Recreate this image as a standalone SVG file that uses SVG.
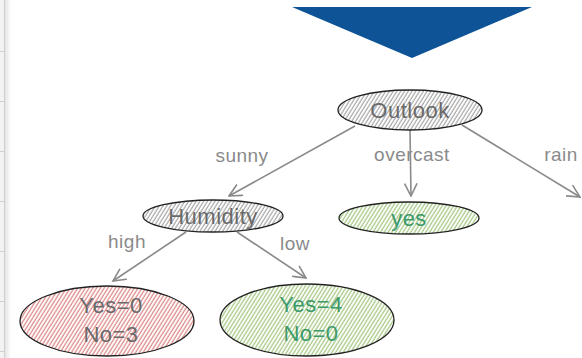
<svg xmlns="http://www.w3.org/2000/svg" width="582" height="358" viewBox="0 0 582 358">
<defs>
<pattern id="hg" patternUnits="userSpaceOnUse" width="3.2" height="8" patternTransform="rotate(32)"><line x1="1" y1="0" x2="1" y2="8" stroke="#a8a8a8" stroke-width="1.2"/></pattern>
<pattern id="hr" patternUnits="userSpaceOnUse" width="3.2" height="8" patternTransform="rotate(32)"><line x1="1" y1="0" x2="1" y2="8" stroke="#de8c8c" stroke-width="1.3"/></pattern>
<pattern id="hgr" patternUnits="userSpaceOnUse" width="3.2" height="8" patternTransform="rotate(32)"><line x1="1" y1="0" x2="1" y2="8" stroke="#a8ca88" stroke-width="1.3"/></pattern>
<linearGradient id="sh" x1="0" y1="0" x2="1" y2="0"><stop offset="0" stop-color="#e4e4e4"/><stop offset="1" stop-color="#ffffff"/></linearGradient>
<marker id="ah" viewBox="0 0 14 14" refX="13" refY="7" markerWidth="14" markerHeight="14" markerUnits="userSpaceOnUse" orient="auto"><path d="M1,1 L13,7 L1,13" fill="none" stroke="#8a8a8a" stroke-width="1.6" stroke-linecap="round"/></marker>
</defs>
<style>
.nd{stroke:#222;stroke-width:1.3}
.t{font-family:"Liberation Sans",Arial,sans-serif;font-size:22px;text-anchor:middle;fill:#6a6a6a;letter-spacing:0.5px}
.tg{fill:#3d9a6a}
.lb{font-family:"Liberation Sans",Arial,sans-serif;font-size:19px;fill:#8a8a8a;text-anchor:middle;letter-spacing:0.5px}
.c{stroke:#8a8a8a;stroke-width:1.6;fill:none;marker-end:url(#ah)}
</style>
<rect x="0" y="0" width="582" height="358" fill="#fff"/>
<g id="ruler">
<rect x="0" y="0" width="4" height="358" fill="#f3f3f3"/>
<rect x="5" y="0" width="6" height="358" fill="url(#sh)"/>
<line x1="4.5" y1="0" x2="4.5" y2="358" stroke="#cfcfcf"/>
<g stroke="#cfcfcf"><line x1="0" y1="51.5" x2="4" y2="51.5"/><line x1="0" y1="101.5" x2="4" y2="101.5"/><line x1="0" y1="151.5" x2="4" y2="151.5"/><line x1="0" y1="201.5" x2="4" y2="201.5"/><line x1="0" y1="251.5" x2="4" y2="251.5"/><line x1="0" y1="301.5" x2="4" y2="301.5"/><line x1="0" y1="351.5" x2="4" y2="351.5"/></g>
</g>
<g id="funnel"><polygon points="292,7 532,7 412,58" fill="#0d5396"/></g>
<g id="connectors">
<line class="c" x1="355" y1="126" x2="229" y2="196"/>
<line class="c" x1="410" y1="130" x2="411" y2="196"/>
<line class="c" x1="462" y1="125" x2="580" y2="197"/>
<line class="c" x1="186" y1="232" x2="113" y2="281"/>
<line class="c" x1="237" y1="232" x2="306" y2="278"/>
<text class="lb" x="242" y="162">sunny</text>
<text class="lb" x="412" y="161">overcast</text>
<text class="lb" x="561" y="161">rain</text>
<text class="lb" x="127" y="248">high</text>
<text class="lb" x="295" y="250">low</text>
</g>
<g id="outlook"><ellipse class="nd" cx="410" cy="110" rx="72" ry="20" fill="url(#hg)"/><text class="t" x="410" y="118">Outlook</text></g>
<g id="humidity"><ellipse class="nd" cx="213" cy="216" rx="70" ry="16" fill="url(#hg)"/><text class="t" x="213" y="224">Humidity</text></g>
<g id="yes"><ellipse class="nd" cx="409" cy="218" rx="70" ry="16" fill="url(#hgr)"/><text class="t tg" x="409" y="226">yes</text></g>
<g id="leaf-no"><ellipse class="nd" cx="107" cy="321" rx="87" ry="35" fill="url(#hr)"/><text class="t" x="111" y="313">Yes=0</text><text class="t" x="111" y="342">No=3</text></g>
<g id="leaf-yes"><ellipse class="nd" cx="307" cy="320" rx="87" ry="36" fill="url(#hgr)"/><text class="t tg" x="311" y="312">Yes=4</text><text class="t tg" x="311" y="341">No=0</text></g>
</svg>
